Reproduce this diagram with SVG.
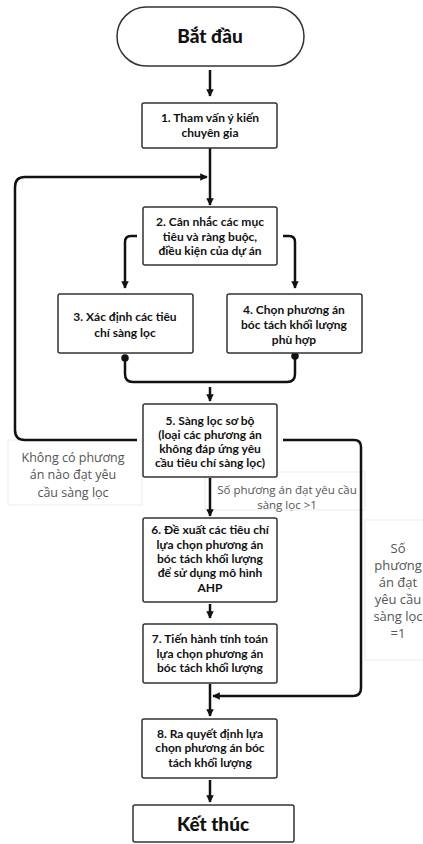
<svg xmlns="http://www.w3.org/2000/svg" width="423" height="844" viewBox="0 0 423 844">
<defs>
<style>
.box{fill:#fff;stroke:#333;stroke-width:1.5}
.t{font-family:Lato,"Open Sans",sans-serif;font-weight:bold;font-size:12px;fill:#111;text-anchor:middle}
.big{font-family:Lato,"Open Sans",sans-serif;font-weight:900;font-size:19px;fill:#111;text-anchor:middle}
.lbl{font-family:"Open Sans",sans-serif;font-size:12.5px;fill:#555;text-anchor:middle}
.lblbox{fill:#fff;stroke:#ececec;stroke-width:1}
.c{fill:none;stroke:#111;stroke-width:2.5}
</style>
<marker id="ah" viewBox="0 0 10 10" refX="9" refY="5" markerWidth="3" markerHeight="3" orient="auto-start-reverse" markerUnits="strokeWidth">
<path d="M0,0 L10,5 L0,10 z" fill="#111"/>
</marker>
<marker id="dot" viewBox="0 0 10 10" refX="5" refY="5" markerWidth="3" markerHeight="3" markerUnits="strokeWidth">
<circle cx="5" cy="5" r="5" fill="#111"/>
</marker>
</defs>
<rect width="423" height="844" fill="#fff"/>

<g id="label-none">
<rect class="lblbox" x="8" y="440" width="134" height="65"/>
<text class="lbl" x="73" y="462">Không có phương</text>
<text class="lbl" x="73" y="479">án nào đạt yêu</text>
<text class="lbl" x="73" y="497">cầu sàng lọc</text>
</g>
<g id="label-gt1">
<rect class="lblbox" x="205" y="472" width="160" height="38"/>
<text class="lbl" x="287" y="494" style="font-size:11.5px">Số phương án đạt yêu cầu</text>
<text class="lbl" x="287" y="509" style="font-size:11.5px">sàng lọc &gt;1</text>
</g>
<g id="label-eq1">
<rect class="lblbox" x="365" y="520" width="70" height="140"/>
<text class="lbl" x="398" y="553" style="font-size:13px">Số</text>
<text class="lbl" x="398" y="570" style="font-size:13px">phương</text>
<text class="lbl" x="398" y="587" style="font-size:13px">án đạt</text>
<text class="lbl" x="398" y="604" style="font-size:13px">yêu cầu</text>
<text class="lbl" x="398" y="621" style="font-size:13px">sàng lọc</text>
<text class="lbl" x="398" y="638" style="font-size:13px">=1</text>
</g>

<g id="connectors">
<path class="c" d="M210,70 V96" marker-end="url(#ah)"/>
<path class="c" d="M210,148 V205" marker-end="url(#ah)"/>
<path class="c" d="M137,440 H25 Q15,440 15,430 V187 Q15,177 25,177 H207" marker-end="url(#ah)"/>
<path class="c" d="M137,236 H131 Q125,236 125,242 V288" marker-end="url(#ah)"/>
<path class="c" d="M283,236 H289 Q295,236 295,242 V288" marker-end="url(#ah)"/>
<path class="c" d="M125,358 V374 Q125,382 133,382 H287 Q295,382 295,374 V356" marker-start="url(#dot)" marker-end="url(#dot)"/>
<path class="c" d="M210,387 V401" marker-end="url(#ah)"/>
<path class="c" d="M210,478 V516" marker-end="url(#ah)"/>
<path class="c" d="M210,604 V618" marker-end="url(#ah)"/>
<path class="c" d="M210,684 V716" marker-end="url(#ah)"/>
<path class="c" d="M283,440 H354 Q361,440 361,447 V688 Q361,696 353,696 H213" marker-end="url(#ah)"/>
<path class="c" d="M210,780 V802" marker-end="url(#ah)"/>
</g>

<g id="start">
<rect x="117" y="7" width="187" height="59" rx="29.5" fill="#fff" stroke="#333" stroke-width="1.5"/>
<text class="big" x="210" y="43">Bắt đầu</text>
</g>
<g id="n1">
<rect class="box" x="142" y="103" width="135" height="45" rx="2"/>
<text class="t" x="210" y="122">1. Tham vấn ý kiến</text>
<text class="t" x="210" y="137">chuyên gia</text>
</g>
<g id="n2">
<rect class="box" x="143" y="207" width="134" height="58" rx="2"/>
<text class="t" x="210" y="226">2. Cân nhắc các mục</text>
<text class="t" x="210" y="241">tiêu và ràng buộc,</text>
<text class="t" x="210" y="255">điều kiện của dự án</text>
</g>
<g id="n3">
<rect class="box" x="58" y="294" width="135" height="59" rx="2"/>
<text class="t" x="125" y="321">3. Xác định các tiêu</text>
<text class="t" x="125" y="337">chí sàng lọc</text>
</g>
<g id="n4">
<rect class="box" x="227" y="294" width="135" height="59" rx="2"/>
<text class="t" x="294" y="314">4. Chọn phương án</text>
<text class="t" x="294" y="329">bóc tách khối lượng</text>
<text class="t" x="294" y="344">phù hợp</text>
</g>
<g id="n5">
<rect class="box" x="143" y="404" width="134" height="73" rx="2"/>
<text class="t" x="210" y="425">5. Sàng lọc sơ bộ</text>
<text class="t" x="210" y="439">(loại các phương án</text>
<text class="t" x="210" y="453">không đáp ứng yêu</text>
<text class="t" x="210" y="467">cầu tiêu chí sàng lọc)</text>
</g>
<g id="n6">
<rect class="box" x="143" y="518" width="134" height="84" rx="2"/>
<text class="t" x="210" y="534">6. Đề xuất các tiêu chí</text>
<text class="t" x="210" y="549">lựa chọn phương án</text>
<text class="t" x="210" y="563">bóc tách khối lượng</text>
<text class="t" x="210" y="577">để sử dụng mô hình</text>
<text class="t" x="210" y="592">AHP</text>
</g>
<g id="n7">
<rect class="box" x="143" y="624" width="134" height="59" rx="2"/>
<text class="t" x="210" y="643">7. Tiến hành tính toán</text>
<text class="t" x="210" y="658">lựa chọn phương án</text>
<text class="t" x="210" y="672">bóc tách khối lượng</text>
</g>
<g id="n8">
<rect class="box" x="142" y="719" width="135" height="59" rx="2"/>
<text class="t" x="210" y="738">8. Ra quyết định lựa</text>
<text class="t" x="210" y="752">chọn phương án bóc</text>
<text class="t" x="210" y="767">tách khối lượng</text>
</g>
<g id="end">
<rect class="box" x="133" y="805" width="161" height="37" rx="2"/>
<text class="big" x="213" y="831">Kết thúc</text>
</g>
</svg>
